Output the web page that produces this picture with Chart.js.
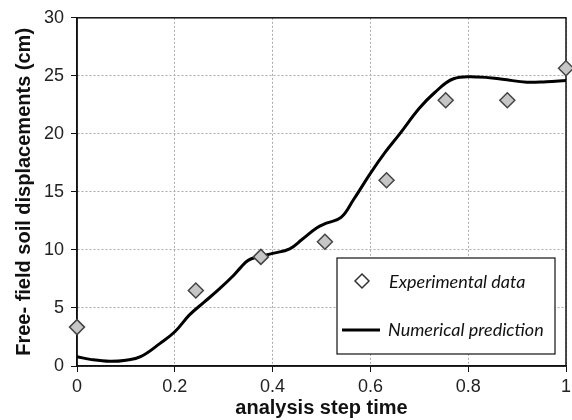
<!DOCTYPE html>
<html>
<head>
<meta charset="utf-8">
<script src="https://cdn.jsdelivr.net/npm/chart.js@4/dist/chart.umd.min.js"></script>
<style>
  html, body { margin: 0; padding: 0; background: #fff; }
  #wrap { width: 572px; height: 420px; }
</style>
</head>
<body>
<div id="wrap"><canvas id="graph1" width="572" height="420"></canvas></div>
<script>
// experimental data (diamonds)
var stepTime = [0, 0.243, 0.376, 0.507, 0.633, 0.754, 0.88, 1.0];
var expDisp = [3.35, 6.5, 9.4, 10.7, 16.0, 22.9, 22.9, 25.65];

// numerical prediction (line)
var modelTime = [0, 0.03, 0.067, 0.1, 0.13, 0.17, 0.2, 0.23, 0.26, 0.29, 0.32, 0.335, 0.35, 0.37, 0.4, 0.435, 0.46, 0.49, 0.51, 0.54, 0.565, 0.6, 0.63, 0.66, 0.7, 0.73, 0.77, 0.82, 0.87, 0.92, 0.96, 1.0];
var modelDisp = [0.8, 0.55, 0.4, 0.5, 0.8, 1.95, 2.95, 4.4, 5.5, 6.6, 7.8, 8.5, 9.1, 9.4, 9.7, 10.1, 10.9, 11.9, 12.3, 12.8, 14.3, 16.6, 18.4, 20.0, 22.2, 23.5, 24.75, 24.9, 24.7, 24.45, 24.5, 24.6];

var legendLabels = ["Experimental data", "Numerical prediction"];

function pairs(xs, ys) {
    var out = [];
    for (let i = 0; i < xs.length; i++) out.push({x: xs[i], y: ys[i]});
    return out;
}

// frame + legend box drawn on top
var frameAndLegend = {
    id: 'frameAndLegend',
    beforeDatasetsDraw: function(chart) {
        var c = chart.ctx, a = chart.chartArea;
        c.save();
        c.strokeStyle = '#111';
        c.lineWidth = 1.5;
        c.strokeRect(a.left, a.top, a.right - a.left, a.bottom - a.top);
        c.restore();
    },
    afterDraw: function(chart) {
        var c = chart.ctx;
        c.save();
        // legend box
        c.fillStyle = '#fff';
        c.fillRect(337, 258, 218, 96);
        c.strokeStyle = '#111';
        c.lineWidth = 1.2;
        c.strokeRect(337, 258, 218, 96);

        // diamond marker
        c.beginPath();
        c.moveTo(362, 274); c.lineTo(369, 281); c.lineTo(362, 288); c.lineTo(355, 281);
        c.closePath();
        c.fillStyle = '#fff';
        c.fill();
        c.strokeStyle = '#333';
        c.lineWidth = 1.5;
        c.stroke();

        // line marker
        c.beginPath();
        c.moveTo(342, 330); c.lineTo(380, 330);
        c.strokeStyle = '#000';
        c.lineWidth = 3;
        c.stroke();

        c.fillStyle = '#111';
        c.font = 'italic 18px Lato';
        c.textBaseline = 'middle';
        c.fillText(legendLabels[0], 389, 282);
        c.fillText(legendLabels[1], 388, 330);
        c.restore();
    }
};

let graph1 = document.getElementById('graph1').getContext('2d');
const myChart = new Chart(graph1, {
    type: 'scatter',
    data: {
        datasets: [{
            label: legendLabels[1],
            data: pairs(modelTime, modelDisp),
            showLine: true,
            borderColor: '#000',
            borderWidth: 3,
            pointRadius: 0,
            tension: 0.4,
            order: 2
        }, {
            label: legendLabels[0],
            data: pairs(stepTime, expDisp),
            pointStyle: 'rectRot',
            pointRadius: 7.5,
            backgroundColor: '#c6c6c6',
            borderColor: '#444',
            borderWidth: 1.5,
            clip: false,
            order: 1
        }]
    },
    options: {
        animation: false,
        responsive: false,
        layout: { autoPadding: false, padding: { top: 17, right: 6, left: 0, bottom: 0 } },
        plugins: {
            legend: { display: false },
            tooltip: { enabled: false }
        },
        scales: {
            x: {
                type: 'linear',
                min: 0,
                max: 1,
                ticks: {
                    stepSize: 0.2,
                    color: '#222',
                    font: { family: 'Liberation Sans', size: 18 },
                    padding: 4,
                    callback: function(v) { return String(Math.round(v * 10) / 10); }
                },
                grid: {
                    color: '#aaa',
                    lineWidth: 1,
                    tickLength: 6,
                    tickColor: '#111'
                },
                border: { display: true, color: '#111', width: 1.5, dash: [2, 2] },
                title: {
                    display: true,
                    text: 'analysis step time',
                    color: '#111',
                    font: { family: 'Liberation Sans', size: 20, weight: 'bold' },
                    padding: { top: 0, bottom: 0 }
                },
                afterFit: function(scale) {
                    scale.height = 54;
                    scale.paddingRight = 0;
                    scale.paddingLeft = 0;
                }
            },
            y: {
                min: 0,
                max: 30,
                ticks: {
                    stepSize: 5,
                    color: '#222',
                    font: { family: 'Liberation Sans', size: 18 },
                    padding: 7
                },
                grid: {
                    color: '#aaa',
                    lineWidth: 1,
                    tickLength: 6,
                    tickColor: '#111'
                },
                border: { display: true, color: '#111', width: 1.5, dash: [2, 2] },
                title: {
                    display: true,
                    text: 'Free- field soil displacements (cm)',
                    color: '#111',
                    font: { family: 'Liberation Sans', size: 20, weight: 'bold' },
                    padding: { top: 12, bottom: 0 }
                },
                afterFit: function(scale) { scale.width = 77; }
            }
        }
    },
    plugins: [frameAndLegend]
});
</script>
</body>
</html>
